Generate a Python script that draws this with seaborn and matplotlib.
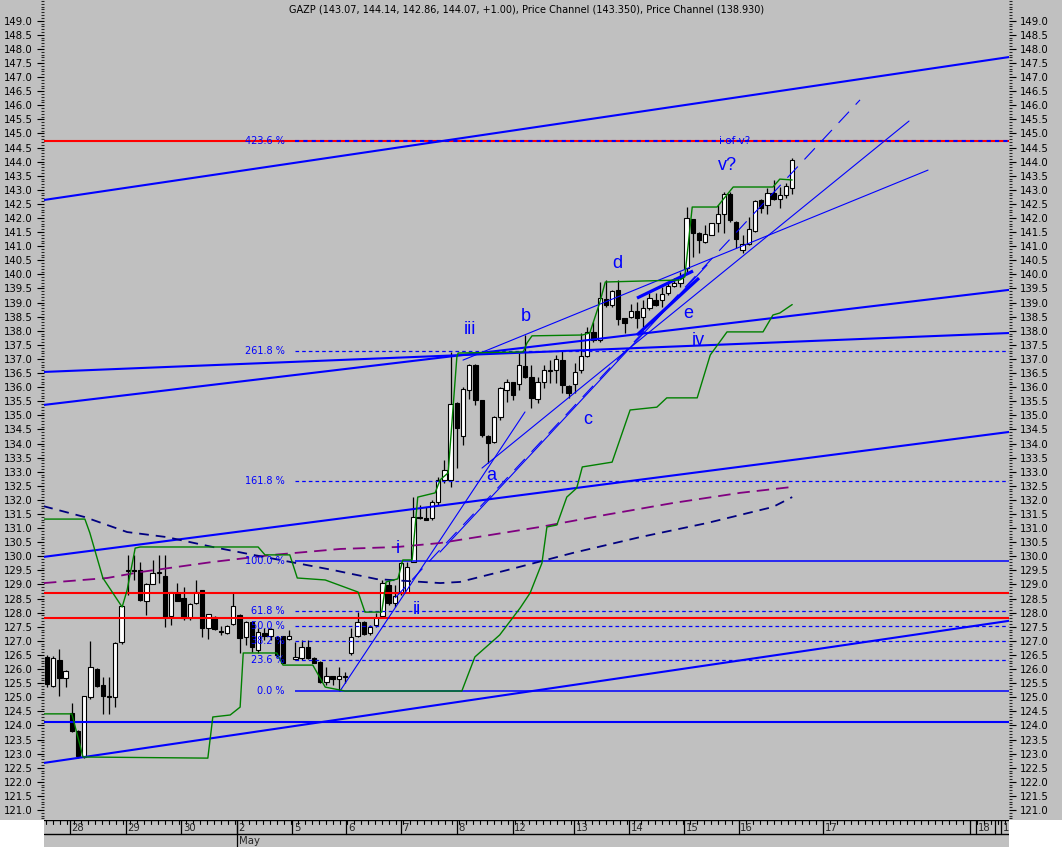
import numpy as np
import pandas as pd
import matplotlib
matplotlib.use("Agg")
import matplotlib.pyplot as plt
from matplotlib.patches import Rectangle
from matplotlib.ticker import MultipleLocator, FormatStrFormatter, FixedLocator
import seaborn as sns

# ---------------- data (hourly candles, bar index 0..120) ----------------
opens = [126.43,125.40,126.32,125.68,124.44,123.80,122.88,125.01,126.00,125.43,
         125.06,125.01,126.96,129.48,129.50,129.51,128.41,129.02,129.40,129.30,
         127.88,128.70,128.52,127.81,128.34,128.80,127.46,127.85,127.33,127.28,
         127.60,127.92,127.14,127.67,126.68,127.28,127.17,127.14,127.17,127.07,
         126.36,126.39,126.78,126.39,126.25,125.54,125.75,125.65,125.72,126.57,
         127.17,127.67,127.28,127.56,127.88,128.98,128.34,128.70,128.73,129.80,
         131.39,131.36,131.36,131.93,132.71,132.71,135.44,134.27,135.90,136.79,
         135.54,134.27,134.05,134.94,135.90,136.18,136.11,136.75,136.36,135.58,
         136.18,136.57,136.61,136.96,136.04,136.11,136.61,137.11,137.96,137.67,
         139.13,138.92,139.45,138.45,138.49,138.70,138.49,138.81,139.09,139.09,
         139.34,139.59,139.70,140.23,141.96,141.47,141.15,141.40,141.82,142.14,
         142.85,141.86,140.87,141.08,141.54,142.64,142.46,142.89,142.67,142.82,
         143.07]
highs = [126.50,126.45,126.71,125.95,124.80,123.82,125.06,127.00,126.02,125.72,
         125.72,126.95,128.26,130.05,130.05,129.80,129.04,129.87,130.05,130.05,
         128.75,129.05,128.91,128.33,129.16,128.82,127.97,127.87,127.53,127.55,
         128.70,127.94,127.69,127.69,127.46,127.46,127.44,127.16,127.19,127.39,
         126.96,127.03,127.03,126.41,126.27,126.07,125.77,126.07,125.90,127.46,
         128.02,127.69,127.56,127.99,129.16,129.16,128.98,129.80,129.80,132.10,
         131.82,131.75,132.00,132.81,133.40,137.25,135.46,136.00,136.81,136.81,
         135.56,134.29,134.96,135.99,136.29,136.20,137.21,137.85,136.79,136.36,
         136.79,136.96,137.14,137.32,136.06,136.86,137.92,138.13,138.31,139.73,
         139.80,139.43,139.80,138.47,138.95,139.02,139.09,139.34,139.34,139.55,
         139.73,139.87,140.09,142.39,141.98,141.49,141.75,141.84,142.46,142.92,
         142.92,141.88,141.40,142.04,142.64,142.66,143.07,143.35,143.10,143.24,
         144.14]
lows = [125.36,125.36,125.04,125.36,123.78,122.84,122.84,124.94,125.36,124.41,
        124.41,124.65,126.89,128.63,129.16,128.40,127.92,129.00,129.05,127.49,
        127.56,128.40,127.74,127.74,128.32,127.14,127.07,127.40,127.21,127.24,
        127.56,126.57,126.85,126.60,126.57,127.03,127.03,126.43,126.20,127.03,
        126.32,126.32,126.35,126.20,125.51,125.43,125.43,125.22,125.51,126.50,
        127.14,127.21,127.21,127.49,127.86,128.27,128.20,128.63,128.70,129.78,
        131.34,131.27,131.29,131.82,132.60,132.46,133.13,133.95,135.58,135.37,
        134.23,133.31,134.02,134.84,135.47,135.54,135.90,136.34,135.26,135.44,
        135.97,136.15,136.15,135.79,135.61,135.79,136.50,137.07,137.60,137.60,
        138.84,138.84,138.21,137.92,138.47,138.10,138.14,138.74,138.88,138.84,
        139.27,139.55,139.55,140.09,140.62,140.76,141.11,141.38,141.50,141.47,
        141.86,140.94,140.76,141.04,141.50,142.18,142.14,142.64,142.36,142.71,
        142.86]
closes = [125.47,126.39,125.68,125.93,123.80,122.92,125.04,126.07,125.40,125.04,
          125.01,126.93,128.24,129.52,129.48,128.45,129.02,129.41,129.42,127.85,
          128.73,128.41,127.81,128.31,128.73,127.46,127.95,127.42,127.31,127.53,
          128.24,127.10,127.67,126.78,127.31,127.17,127.42,126.50,126.22,127.17,
          126.43,126.78,126.39,126.22,125.54,125.75,125.65,125.75,125.73,127.14,
          127.67,127.25,127.49,127.81,129.05,128.34,128.59,129.76,129.62,131.39,
          131.36,131.29,131.93,132.71,133.05,135.40,134.55,135.93,136.79,135.54,
          134.30,134.02,134.94,135.97,136.18,135.72,136.79,136.36,135.61,136.18,
          136.61,136.59,137.00,136.08,135.79,136.54,137.11,137.96,137.67,139.16,
          138.92,139.41,138.42,138.28,138.70,138.45,138.81,139.16,138.92,139.30,
          139.59,139.70,139.87,142.00,141.47,141.22,141.43,141.82,142.14,142.85,
          141.93,141.26,141.08,141.61,142.60,142.36,142.89,142.67,142.82,143.14,
          144.07]

# price channels (green), read as (bar index, price) break points
upper_idx = [-0.5, 6.1, 6.9, 7.7, 9.0, 12.1, 12.9, 14.2, 15.0, 34.0, 35.1, 39.1,
             40.3, 44.8, 50.1, 51.2, 53.9, 54.6, 56.5, 57.3, 58.8, 59.7, 62.5,
             63.3, 64.6, 66.0, 66.2, 76.7, 77.3, 78.1, 86.2, 87.4, 89.0, 89.9,
             101.9, 102.7, 103.9, 107.9, 110.5, 116.9, 118.0, 120.0]
upper_val = [131.32, 131.32, 130.83, 130.22, 129.23, 128.20, 128.80, 130.29,
             130.33, 130.33, 130.05, 130.05, 129.23, 129.16, 128.73, 128.02,
             128.02, 129.09, 129.20, 129.87, 129.87, 132.10, 132.25, 132.71,
             132.96, 137.07, 137.21, 137.25, 137.57, 137.82, 137.85, 137.92,
             138.99, 139.73, 139.80, 139.91, 142.39, 142.39, 143.10, 143.10,
             143.38, 143.35]
lower_idx = [-0.5, 4.0, 4.8, 5.8, 25.9, 26.7, 29.5, 31.1, 31.6, 37.0, 38.0, 42.8,
             44.8, 48.0, 66.8, 68.9, 72.9, 76.2, 77.8, 79.7, 80.5, 82.1, 83.7,
             85.3, 86.2, 91.0, 93.9, 98.2, 99.8, 104.7, 106.8, 109.5, 115.3,
             116.9, 118.0, 120.0]
lower_val = [124.41, 124.41, 123.73, 122.88, 122.84, 124.30, 124.37, 124.65,
             126.57, 126.57, 126.14, 126.14, 125.36, 125.22, 125.22, 126.43,
             127.21, 128.17, 128.70, 129.76, 131.04, 131.11, 132.10, 132.42,
             133.17, 133.34, 135.19, 135.29, 135.62, 135.62, 137.14, 137.96,
             137.96, 138.56, 138.63, 138.93]

# moving averages
ma_purple_idx = [-0.5, 9.7, 15.0, 26.7, 36.4, 47.2, 56.4, 63.3, 79.4, 90.2, 100.8, 111.6, 120.0]
ma_purple_val = [129.05, 129.23, 129.44, 129.80, 130.05, 130.26, 130.33, 130.47,
                 131.04, 131.48, 131.89, 132.25, 132.46]
ma_navy_idx = [-0.6, 6.1, 12.9, 19.3, 26.7, 33.2, 46.1, 53.1, 63.3, 66.5, 74.1,
               84.7, 95.5, 106.3, 116.9, 120.0]
ma_navy_val = [131.78, 131.39, 130.86, 130.68, 130.33, 130.05, 129.51, 129.19,
               129.05, 129.09, 129.51, 130.12, 130.68, 131.18, 131.75, 132.10]

# Fibonacci tool
fib_low, fib_high = 125.22, 129.83
fib_ratios = [0.0, 23.6, 38.2, 50.0, 61.8, 100.0, 161.8, 261.8, 423.6]
fib_solid = [0.0, 100.0]

# trend lines: (x0, p0, x1, p1)
trend_thick = [(-0.48, 142.64, 154.9, 147.71), (-0.48, 136.54, 154.9, 137.92),
               (-0.48, 135.37, 154.9, 139.45), (-0.48, 129.98, 154.9, 134.41),
               (-0.48, 122.67, 154.9, 127.71)]
trend_thin = [(66.99, 136.96, 141.87, 143.70), (47.18, 125.22, 76.97, 135.12),
              (63.29, 130.15, 106.28, 140.33), (70.05, 133.13, 138.81, 145.44)]
trend_dashed = [(56.04, 128.52, 130.92, 146.19)]
wedge_lines = [(95.01, 139.16, 104.03, 140.12), (95.01, 137.85, 104.99, 139.87)]
red_levels = [128.70, 127.81]
blue_level = 124.12

# wave labels
wave_text = ["iii", "b", "a", "c", "d", "e", "iv", "v?", "i", "ii"]
wave_x = [68.1, 77.1, 71.5, 87.0, 91.8, 103.2, 104.8, 109.5, 56.5, 59.5]
wave_y = [138.03, 138.49, 132.85, 134.84, 140.40, 138.63, 137.67, 143.88, 130.29, 128.10]
note_text, note_x, note_y = "i of v?", 110.8, 144.72

y_labels = [121.0 + 0.5 * k for k in range(57)]

day_labels = ["28", "29", "30", "2", "5", "6", "7", "8", "12", "13", "14", "15", "16", "17", "18", "19"]
day_pos = [3.7, 12.7, 21.6, 30.6, 39.5, 48.2, 57.0, 66.0, 75.0, 84.9, 93.7, 102.6, 111.4, 125.0, 149.6, 153.6]
extra_sep = [148.6, 152.7]
month_label, month_pos = "May", 30.6

title = ("GAZP (143.07, 144.14, 142.86, 144.07, +1.00), "
         "Price Channel (143.350), Price Channel (138.930)")

# ---------------- styling ----------------
sns.set_style("white")
plt.rcParams['font.family'] = ['DejaVu Sans']
plt.rcParams['lines.scale_dashes'] = False
GRAY = "#C0C0C0"
BLUE = "#0000FF"

W, H = 1062, 847
fig = plt.figure(figsize=(W / 100, H / 100), dpi=100, facecolor=GRAY)
fig.patches.append(Rectangle((0, 0), 44 / W, 27 / H, transform=fig.transFigure,
                             facecolor="white", edgecolor="none", zorder=0))
fig.patches.append(Rectangle((1009 / W, 0), 1 - 1009 / W, 27 / H, transform=fig.transFigure,
                             facecolor="white", edgecolor="none", zorder=0))

ax = fig.add_axes([44 / W, 27 / H, 965 / W, 820 / H])
ax.set_facecolor(GRAY)
XMIN, XMAX = -0.483, 154.91
ax.set_xlim(XMIN, XMAX)
ax.set_ylim(120.645, 149.734)
for s in ax.spines.values():
    s.set_visible(False)

# y axes (both sides)
ax.yaxis.set_major_locator(FixedLocator(y_labels))
ax.yaxis.set_minor_locator(MultipleLocator(0.1))
ax.yaxis.set_major_formatter(FormatStrFormatter("%.1f"))
ax.tick_params(axis="y", which="major", direction="out", length=5, width=0.8,
               labelsize=7.3, left=True, right=True, labelleft=True, labelright=True,
               pad=3, colors="black")
ax.tick_params(axis="y", which="minor", direction="out", length=2.5, width=0.8,
               left=True, right=True)
ax.tick_params(axis="x", bottom=False, labelbottom=False)

# horizontal levels
for lv in red_levels:
    ax.axhline(lv, color="#FF0000", lw=1.5, zorder=3)
ax.axhline(blue_level, color=BLUE, lw=1.5, zorder=3)

fib_levels = [fib_low + r / 100.0 * (fib_high - fib_low) for r in fib_ratios]
for r, lv in zip(fib_ratios, fib_levels):
    if r == 423.6:
        ax.hlines(lv, XMIN, XMAX, color="#FF0000", lw=1.5, zorder=3)
        ln = ax.hlines(lv, 40.0, XMAX, color=BLUE, lw=1.5, zorder=3.1)
        ln.set_linestyle((0, (3, 3)))
    elif r in fib_solid:
        ax.hlines(lv, 40.0, XMAX, color=BLUE, lw=1.1, zorder=3)
    else:
        ln = ax.hlines(lv, 40.0, XMAX, color=BLUE, lw=0.9, zorder=3)
        ln.set_linestyle((0, (2.6, 2.2)))
    ax.text(38.3, lv, f"{r:.1f} %", color=BLUE, fontsize=7, ha="right",
            va="center", zorder=5)

# trend lines
for (x0, p0, x1, p1) in trend_thick:
    ax.plot([x0, x1], [p0, p1], color=BLUE, lw=1.5, zorder=3)
for (x0, p0, x1, p1) in trend_thin:
    ax.plot([x0, x1], [p0, p1], color=BLUE, lw=0.8, zorder=3)
for (x0, p0, x1, p1) in trend_dashed:
    ax.plot([x0, x1], [p0, p1], color=BLUE, lw=0.8, zorder=3, dashes=(11, 7))
for (x0, p0, x1, p1) in wedge_lines:
    ax.plot([x0, x1], [p0, p1], color=BLUE, lw=2.3, zorder=3, solid_capstyle="butt")

# moving averages and channels via seaborn
sns.lineplot(x=ma_purple_idx, y=ma_purple_val, ax=ax, color="#800080", lw=1.3,
             zorder=3, estimator=None, sort=False)
ax.lines[-1].set_dashes([9, 5])
sns.lineplot(x=ma_navy_idx, y=ma_navy_val, ax=ax, color="#000080", lw=1.3,
             zorder=3, estimator=None, sort=False)
ax.lines[-1].set_dashes([7, 5])
sns.lineplot(x=upper_idx, y=upper_val, ax=ax, color="#008000", lw=1.0,
             zorder=3.5, estimator=None, sort=False)
sns.lineplot(x=lower_idx, y=lower_val, ax=ax, color="#008000", lw=1.0,
             zorder=3.5, estimator=None, sort=False)

# candles
idx = np.arange(len(opens))
o = np.array(opens); c = np.array(closes); h = np.array(highs); l = np.array(lows)
ax.vlines(idx, l, h, color="black", lw=0.9, zorder=2)
up = c >= o
body_h = np.maximum(np.abs(c - o), 0.025)
ax.bar(idx[up], body_h[up], bottom=np.minimum(o, c)[up], width=0.7,
       color="white", edgecolor="black", linewidth=0.8, zorder=2.2)
ax.bar(idx[~up], body_h[~up], bottom=np.minimum(o, c)[~up], width=0.7,
       color="black", edgecolor="black", linewidth=0.8, zorder=2.2)

# wave labels
for t, x, y in zip(wave_text, wave_x, wave_y):
    ax.text(x, y, t, color=BLUE, fontsize=13, ha="center", va="center",
            family=["Liberation Sans", "DejaVu Sans"], zorder=6)
ax.text(note_x, note_y, note_text, color=BLUE, fontsize=7.5, ha="center",
        va="center", zorder=6)

fig.text(527 / W, 1 - 10 / H, title, ha="center", va="center", fontsize=7.0,
         color="black")

# ---------------- date axis ----------------
axd = fig.add_axes([44 / W, 0, 965 / W, 27 / H])
axd.set_facecolor(GRAY)
axd.set_xlim(XMIN, XMAX)
axd.set_ylim(0, 27)
for s in axd.spines.values():
    s.set_visible(False)
axd.set_xticks([]); axd.set_yticks([])
axd.axhline(26.6, color="black", lw=1.0)
axd.axhline(13, color="black", lw=1.0)
minor_step = 7 / 6.21
for tx in np.arange(XMIN + 0.3, XMAX, minor_step):
    axd.plot([tx, tx], [26.6, 23.5], color="black", lw=0.8)
for lab, p in zip(day_labels, day_pos):
    axd.plot([p, p], [13, 27], color="black", lw=0.9)
    axd.text(p + 0.25, 19.5, lab, fontsize=7.3, ha="left", va="center")
for p in extra_sep:
    axd.plot([p, p], [13, 27], color="black", lw=0.9)
axd.plot([month_pos, month_pos], [0, 27], color="black", lw=0.9)
axd.text(month_pos + 0.25, 6, month_label, fontsize=7.3, ha="left", va="center")

fig.savefig("out.png", dpi=100, facecolor=GRAY)
